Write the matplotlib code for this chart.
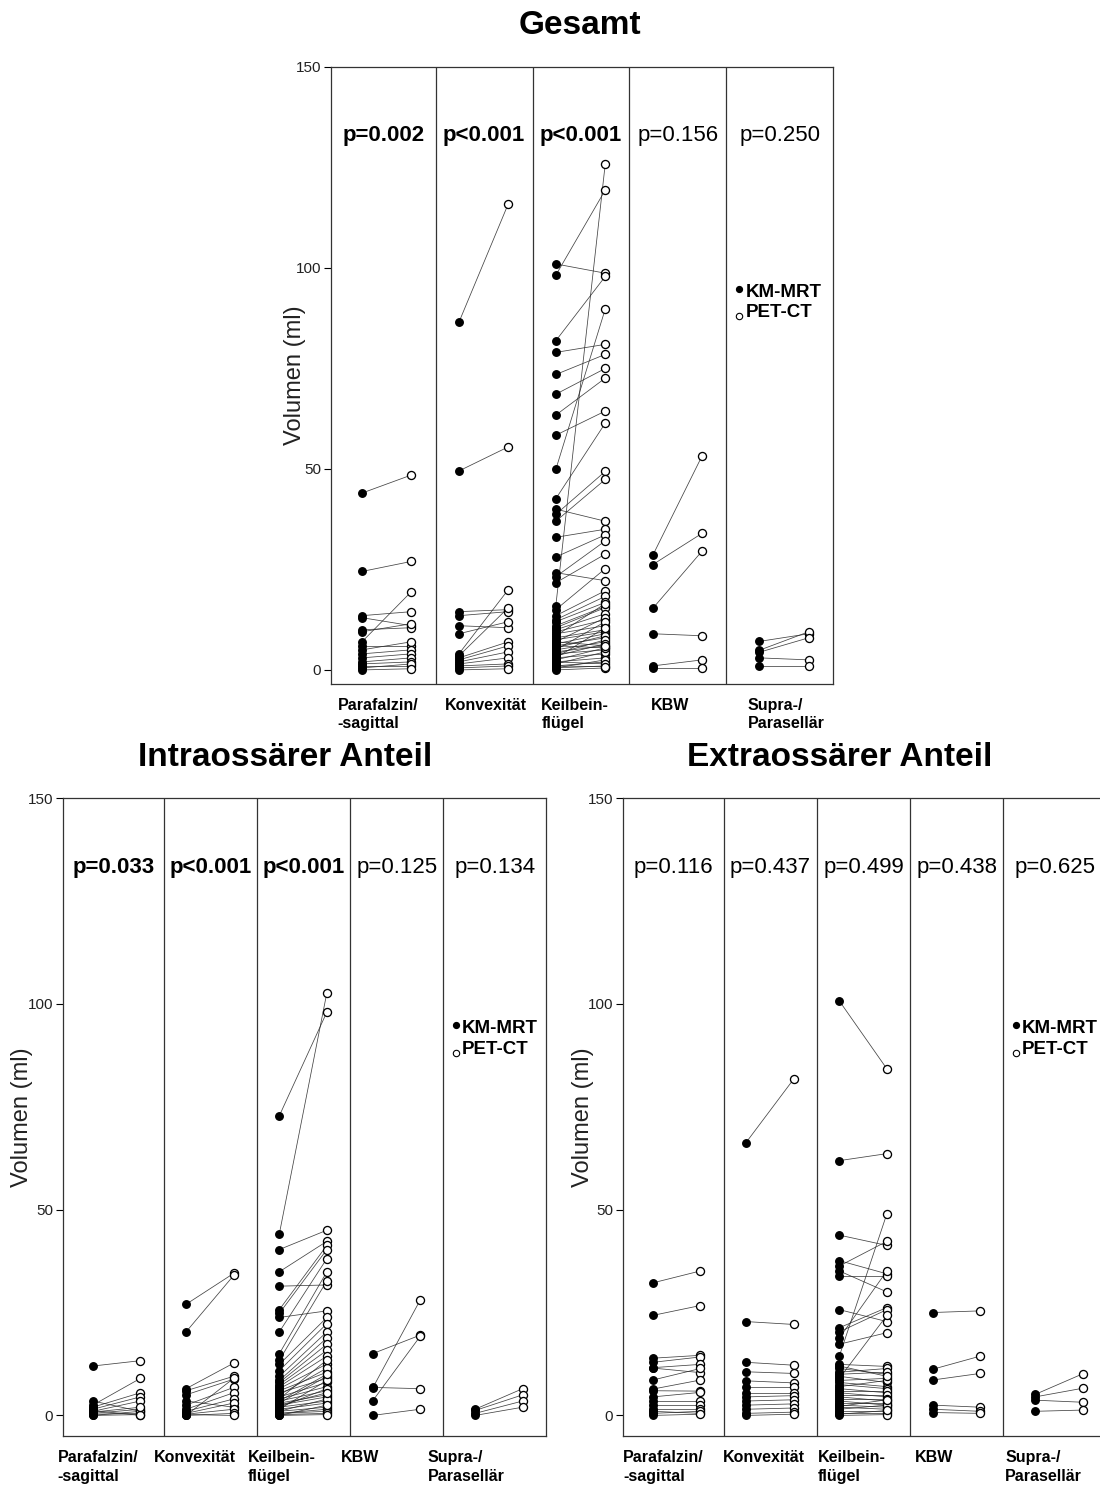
import matplotlib.pyplot as plt

plt.rcParams['font.family'] = ['Liberation Sans', 'DejaVu Sans']

# Lokalisationen (x-Kategorien)
categories = ['Parafalzin/\n-sagittal', 'Konvexität', 'Keilbein-\nflügel', 'KBW', 'Supra-/\nParasellär']

# p-Werte je Lokalisation
gesamt_p = ['p=0.002', 'p<0.001', 'p<0.001', 'p=0.156', 'p=0.250']
intra_p = ['p=0.033', 'p<0.001', 'p<0.001', 'p=0.125', 'p=0.134']
extra_p = ['p=0.116', 'p=0.437', 'p=0.499', 'p=0.438', 'p=0.625']

# Gesamtvolumen (ml): KM-MRT und PET-CT, paarweise je Patient
gesamt_mrt = [
    [44, 24.5, 13.5, 13, 10, 9.5, 7, 6, 5, 4, 3, 2, 1.5, 1, 0.5, 0],
    [86.5, 49.5, 14.5, 13.5, 11, 9, 4, 3.5, 3, 2.5, 2, 1.5, 1, 0.5, 0],
    [101, 98.2, 81.9, 79, 73.5, 68.6, 63.4, 58.4, 49.9, 42.6, 40, 38.7, 37, 33, 28.1,
     24.2, 23.2, 21.7, 16, 15, 13.5, 12.5, 12, 11, 10.5, 10, 9.5, 9, 8.5, 8, 7.5, 7,
     6.5, 6, 5.5, 5, 5, 4.5, 4, 4, 3.5, 3, 3, 2.5, 2, 1.5, 1, 0.5, 0.5, 0, 2, 1, 6, 7],
    [28.5, 26.2, 15.3, 9, 1, 0.5],
    [7.1, 4.9, 4.4, 3, 1],
]
gesamt_pet = [
    [48.5, 27, 14.5, 11, 10.5, 11.5, 19.5, 6, 7, 5, 4, 3, 2, 1, 1.5, 0.3],
    [116, 55.5, 15, 14.5, 10.5, 12, 20, 15.5, 7, 6, 4.5, 3, 1.5, 1, 0.3],
    [98.7, 119.4, 97.9, 81, 78.5, 75, 72.6, 64.4, 89.8, 61.4, 37, 49.4, 47.4, 35, 33.6,
     22.2, 32.1, 28.8, 125.9, 25.2, 19.7, 18.3, 16.8, 15.8, 15.5, 14, 12.5, 11, 16.5,
     10, 9.5, 13, 9, 8, 8.5, 7, 12, 6, 7.5, 5, 6.5, 4, 10.5, 5.5, 3, 4.5, 2, 1, 2.5,
     0.5, 1.5, 0.8, 5.5, 6],
    [53.3, 34, 29.6, 8.5, 2.5, 0.5],
    [9, 9.5, 8, 2.5, 1],
]

# Intraossärer Anteil (ml)
intra_mrt = [
    [12, 3.5, 2.5, 2, 1.5, 1, 0.5, 0.3, 0, 0, 1.2, 0.8],
    [27, 20.3, 6.5, 6, 5, 3.5, 2.5, 1.5, 1, 0.5, 0.3, 0, 0, 0.2],
    [72.8, 44.1, 40.3, 34.9, 31.4, 25.7, 24.8, 23.8, 20.3, 15, 13.4, 12.4, 10.9, 9.5,
     8.5, 8, 7.5, 7, 6.5, 6, 5.5, 5, 4.5, 4, 4, 3.5, 3, 3, 2.5, 2, 2, 1.5, 1, 1, 0.5,
     0.5, 0.2, 0, 0, 1.5, 2.5, 3.5],
    [15, 6.8, 6.6, 3.5, 0],
    [1.5, 1.2, 0.5, 0],
]
intra_pet = [
    [13.3, 1, 9, 5.5, 4.5, 3.5, 1.5, 0.5, 0.2, 1, 0, 2],
    [34.5, 34, 12.7, 9.5, 8.8, 2, 6.8, 5.5, 4, 3, 1.5, 0.5, 9, 0],
    [98, 102.7, 45, 42.3, 31.7, 41.3, 40.3, 25.4, 38.1, 34.9, 32.7, 23.8, 22.3, 20.3,
     18.8, 17.3, 15.8, 14.4, 12.5, 10.5, 9, 11.5, 8, 7, 13.5, 6, 5, 9.5, 4.5, 3.5, 6.5,
     3, 2, 4, 1.5, 1, 0.5, 0.2, 2.5, 8.5, 5.5, 10],
    [19.5, 6.5, 28, 19.2, 1.5],
    [6.5, 5, 3.5, 2],
]

# Extraossärer Anteil (ml)
extra_mrt = [
    [32.2, 24.3, 13.9, 12.9, 11.6, 11.5, 8.6, 6.4, 6, 4.5, 3.5, 2.5, 1.5, 1, 0.5, 0],
    [66.3, 22.8, 12.9, 10.6, 8.4, 6.9, 5.4, 4.5, 3.5, 2.5, 1.5, 0.5, 0],
    [100.7, 61.9, 43.8, 37.6, 36.3, 35.1, 33.9, 25.7, 21.3, 20.3, 18.8, 17.3, 14.4,
     12.4, 11.4, 10.5, 9.5, 9, 8.5, 8, 7.5, 7, 6.5, 6, 5.5, 5, 4.5, 4, 3.5, 3, 2.5, 2,
     1.5, 1, 0.5, 0, 0.3, 10, 12, 2.2],
    [25, 11.2, 8.6, 2.5, 1.5, 0.7],
    [5.1, 4.5, 3.7, 1],
]
extra_pet = [
    [35.1, 26.7, 14.6, 14.2, 12.4, 10.4, 11.4, 8.6, 5.9, 5.6, 3.5, 2.5, 1.5, 0.5, 1, 0.3],
    [81.7, 22.1, 12.2, 10.2, 7.9, 6.9, 5.4, 4.8, 3.8, 2.8, 1.8, 0.8, 0.3],
    [84.2, 63.6, 41.3, 34.4, 42.3, 30, 33.9, 22.8, 26.2, 25.7, 35.1, 20.1, 49, 11.9,
     10, 11.4, 8, 24.3, 9, 7, 6.5, 8.5, 5.5, 6, 4.5, 5, 3.5, 4, 2.5, 3, 2, 1.5, 2.5, 1,
     0.5, 0.2, 1.2, 10.5, 9.5, 3.8],
    [25.4, 14.4, 10.2, 2, 1, 0.5],
    [10.1, 6.6, 3.2, 1.3],
]

W, H = 1100, 1486
fig = plt.figure(figsize=(W / 100, H / 100), dpi=100)

# Gruppengrenzen in x (äußere Gruppen etwas breiter)
bounds = [0, 1.08, 2.08, 3.08, 4.08, 5.18]


def add_px_axes(left, top, right, bottom):
    return fig.add_axes([left / W, 1 - bottom / H, (right - left) / W, (bottom - top) / H])


def draw_panel(ax, mrt, pet, pvals, ymin, label_x, ylabel_x):
    ax.set_xlim(bounds[0], bounds[-1])
    ax.set_ylim(ymin, 150)
    ax.set_xticks([])
    ax.set_yticks([0, 50, 100, 150])
    ax.tick_params(axis='y', direction='out', length=5, width=0.8,
                   labelsize=11, labelcolor='#222', pad=2)
    for sp in ax.spines.values():
        sp.set_linewidth(0.9)
        sp.set_color('#333')
    for b in bounds[1:-1]:
        ax.axvline(b, color='#333', lw=0.9)

    for i in range(5):
        x_m = bounds[i + 1] - 0.76
        x_p = bounds[i + 1] - 0.25
        for a, b in zip(mrt[i], pet[i]):
            ax.plot([x_m, x_p], [a, b], color='#222', lw=0.55, alpha=0.85, zorder=2)
        ax.plot([x_m] * len(mrt[i]), mrt[i], 'o', ms=5.4, color='black', zorder=3)
        ax.plot([x_p] * len(pet[i]), pet[i], 'o', ms=5.8, mfc='white',
                mec='black', mew=0.95, zorder=3)

        p = pvals[i]
        sig = float(p[2:]) < 0.05
        ax.text((bounds[i] + bounds[i + 1]) / 2, 133, p, ha='center', va='center',
                fontsize=16, fontweight='bold' if sig else 'normal')

        ax.text(label_x[i], -0.022, categories[i], transform=ax.get_xaxis_transform(),
                ha='left', va='top', fontsize=11.5, fontweight='bold',
                linespacing=1.3, clip_on=False)

    # Legende
    ax.plot(4.21, 94.8, 'o', ms=4.2, color='black', zorder=3)
    ax.text(4.28, 94, 'KM-MRT', fontsize=13.5, fontweight='bold', va='center')
    ax.plot(4.21, 88, 'o', ms=4.6, mfc='white', mec='black', mew=0.8, zorder=3)
    ax.text(4.28, 88.8, 'PET-CT', fontsize=13.5, fontweight='bold', va='center')

    ax.text(ylabel_x, 0.5, 'Volumen (ml)', transform=ax.transAxes, rotation=90,
            ha='center', va='center', fontsize=17, color='#222')


ax_top = add_px_axes(331, 67, 833, 684)
draw_panel(ax_top, gesamt_mrt, gesamt_pet, gesamt_p, -3.5,
           [0.07, 1.18, 2.17, 3.30, 4.30], -36 / 502)

ax_left = add_px_axes(63, 798, 546, 1436)
draw_panel(ax_left, intra_mrt, intra_pet, intra_p, -5,
           [-0.06, 0.97, 1.98, 2.98, 3.91], -41 / 483)

ax_right = add_px_axes(623, 798, 1106, 1436)
draw_panel(ax_right, extra_mrt, extra_pet, extra_p, -5,
           [0.0, 1.07, 2.09, 3.13, 4.10], -40 / 483)

fig.text(580 / W, 1 - 25 / H, 'Gesamt', ha='center', va='center',
         fontsize=24, fontweight='bold')
fig.text(285 / W, 1 - 757 / H, 'Intraossärer Anteil', ha='center', va='center',
         fontsize=24, fontweight='bold')
fig.text(840 / W, 1 - 757 / H, 'Extraossärer Anteil', ha='center', va='center',
         fontsize=24, fontweight='bold')

fig.savefig('out.png', dpi=100)
